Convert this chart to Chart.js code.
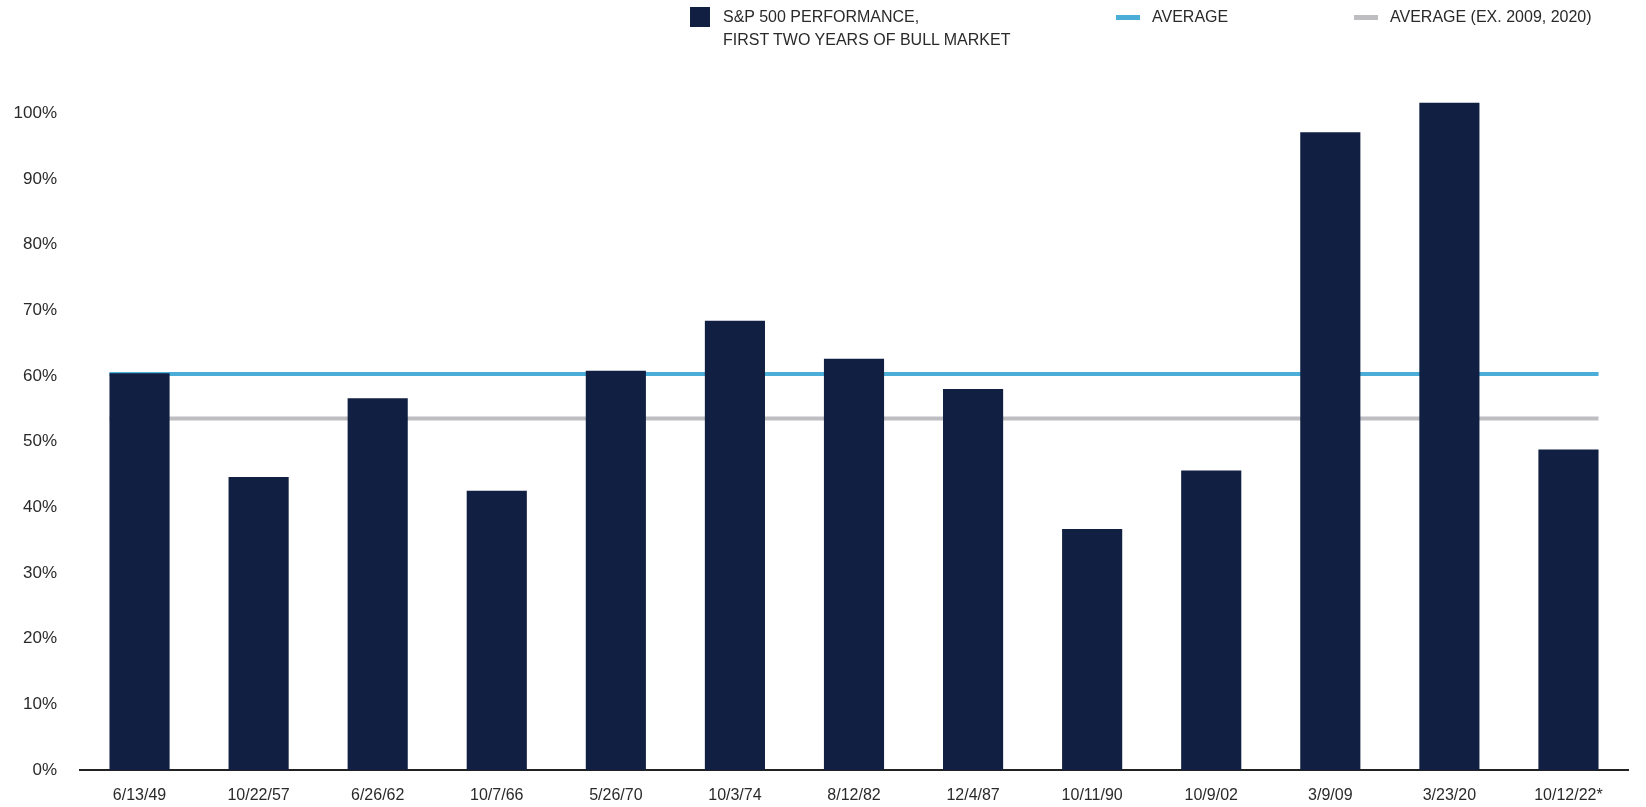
<!DOCTYPE html>
<html>
<head>
<meta charset="utf-8">
<script src="https://cdn.jsdelivr.net/npm/chart.js@4.4.0/dist/chart.umd.min.js"></script>
<style>
  body { margin: 0; background: #fff; }
  #wrap { position: relative; width: 1646px; height: 807px; }
  #chart { position: absolute; left: 0; top: 0; }
  .legend { position: absolute; font-family: "Liberation Sans", Arial, sans-serif; font-size: 16px; color: #2a2a2a; line-height: 23px; white-space: nowrap; }
  .sw { position: absolute; }
</style>
</head>
<body>
<div id="wrap">
  <canvas id="chart" width="1646" height="807"></canvas>
  <div class="sw" style="left:690px;top:7px;width:20px;height:20px;background:#111f42;"></div>
  <div class="legend" style="left:723px;top:5px;">S&amp;P 500 PERFORMANCE,<br>FIRST TWO YEARS OF BULL MARKET</div>
  <div class="sw" style="left:1116px;top:15px;width:24px;height:5px;background:#4aaed8;"></div>
  <div class="legend" style="left:1152px;top:5px;">AVERAGE</div>
  <div class="sw" style="left:1354px;top:15px;width:24px;height:5px;background:#bdbdc2;"></div>
  <div class="legend" style="left:1390px;top:5px;">AVERAGE (EX. 2009, 2020)</div>
</div>
<script>
const dates = ["6/13/49", "10/22/57", "6/26/62", "10/7/66", "5/26/70", "10/3/74", "8/12/82",
  "12/4/87", "10/11/90", "10/9/02", "3/9/09", "3/23/20", "10/12/22*"];
const performance = [60.4, 44.6, 56.6, 42.5, 60.8, 68.4, 62.6, 58.0, 36.7, 45.6, 97.1, 101.6, 48.8];
const average = 60.3;
const averageEx = 53.5;
const yTickValues = [0, 10, 20, 30, 40, 50, 60, 70, 80, 90, 100];

const barPct = 0.505;
const n = dates.length;

// average lines span from the left edge of the first bar to the right edge of the last
function flatLine(v) {
  return [{ x: -barPct / 2, y: v }, { x: n - 1 + barPct / 2, y: v }];
}

const tickFont = { family: "Liberation Sans, Arial, sans-serif", size: 17 };

new Chart(document.getElementById("chart"), {
  type: "bar",
  data: {
    labels: dates,
    datasets: [
      {
        type: "bar",
        label: "S&P 500 Performance, First Two Years of Bull Market",
        data: performance,
        backgroundColor: "#111f42",
        borderWidth: 0,
        barPercentage: barPct,
        categoryPercentage: 1,
        grouped: false,
        order: 0
      },
      {
        type: "line",
        label: "Average",
        data: flatLine(average),
        xAxisID: "xLine",
        borderColor: "#4aaed8",
        borderWidth: 4,
        pointRadius: 0,
        order: 1
      },
      {
        type: "line",
        label: "Average (ex. 2009, 2020)",
        data: flatLine(averageEx),
        xAxisID: "xLine",
        borderColor: "#bdbdc2",
        borderWidth: 4,
        pointRadius: 0,
        order: 2
      }
    ]
  },
  options: {
    responsive: false,
    animation: false,
    layout: { padding: { top: 100, left: 13, right: 18, bottom: 2 } },
    plugins: { legend: { display: false }, tooltip: { enabled: false } },
    scales: {
      x: {
        type: "category",
        offset: true,
        grid: { display: false, drawTicks: false },
        border: { display: true, color: "#222", width: 2 },
        ticks: { font: { ...tickFont, size: 16 }, color: "#2a2a2a", padding: 16, maxRotation: 0, autoSkip: false },
        afterFit: (s) => { s.height = 35; }
      },
      xLine: {
        type: "linear",
        display: false,
        offset: false,
        min: -0.5,
        max: n - 0.5
      },
      y: {
        min: 0,
        max: 102,
        grid: { display: false, drawTicks: false },
        border: { display: false },
        afterBuildTicks: (scale) => {
          scale.ticks = yTickValues.map(v => ({ value: v }));
        },
        afterFit: (s) => { s.width = 67; },
        ticks: {
          font: tickFont,
          color: "#2a2a2a",
          padding: 23,
          callback: (v) => v + "%"
        }
      }
    }
  }
});
</script>
</body>
</html>
